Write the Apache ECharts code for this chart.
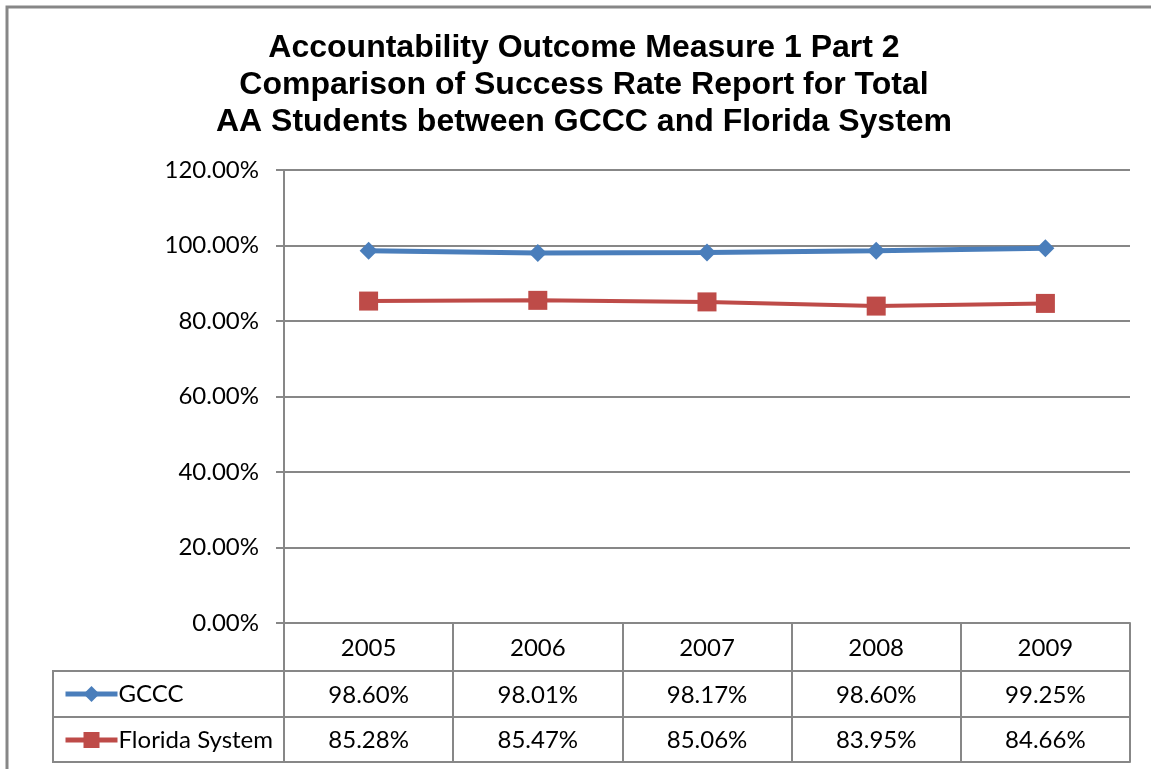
<!DOCTYPE html>
<html>
<head>
<meta charset="utf-8">
<script src="https://cdn.jsdelivr.net/npm/echarts@6/dist/echarts.min.js"></script>
<style>
  html, body { margin: 0; padding: 0; background: #fff; }
  #chart { width: 1151px; height: 769px; }
</style>
</head>
<body>
<div id="chart"></div>
<script>
// 資料
const years = ['2005', '2006', '2007', '2008', '2009'];
const gccc = [98.60, 98.01, 98.17, 98.60, 99.25];
const florida = [85.28, 85.47, 85.06, 83.95, 84.66];
const yTicks = [0, 20, 40, 60, 80, 100, 120];

const titleText = 'Accountability Outcome Measure 1 Part 2\nComparison of Success Rate Report for Total\nAA Students between GCCC and Florida System';

const gray = '#878787';
const labelFont = 'Lato';
const labelSize = 24;
const pct = v => Number(v).toFixed(2) + '%';

const myChart = echarts.init(document.getElementById('chart'));

// 資料表的行 (x 軸偏移)
function tableAxis(offset, tickLen, rowVals, showTicks) {
  return {
    type: 'category',
    position: 'bottom',
    data: years,
    offset: offset,
    boundaryGap: true,
    axisLine: { show: true, lineStyle: { color: gray, width: 2 } },
    axisTick: { show: showTicks, length: tickLen, interval: 0, lineStyle: { color: gray, width: 2 } },
    axisLabel: {
      show: !!rowVals,
      interval: 0,
      margin: tickLen / 2 + 1,
      verticalAlign: 'middle',
      color: '#000',
      fontFamily: labelFont,
      fontSize: labelSize,
      formatter: (v, i) => rowVals ? rowVals(i, v) : ''
    },
    splitLine: { show: false }
  };
}

function legendRow(name, top) {
  return {
    data: [name],
    left: 58, top: top,
    itemWidth: 52, itemHeight: 20,
    lineStyle: { width: 5 },
    textStyle: { fontFamily: labelFont, fontSize: labelSize, color: '#000', padding: [0, 0, 0, -4] }
  };
}

const option = {
  animation: false,
  title: {
    text: titleText,
    left: 579,
    top: 25,
    textAlign: 'center',
    textStyle: {
      fontFamily: 'Liberation Sans',
      fontWeight: 'bold',
      fontSize: 32,
      lineHeight: 37,
      color: '#000'
    }
  },
  legend: [
    legendRow('GCCC', 677),
    legendRow('Florida System', 723)
  ],
  grid: { left: 284, right: 21, top: 170, bottom: 146, containLabel: false },
  xAxis: [
    tableAxis(0, 48, (i, v) => v, true),
    tableAxis(48, 46, i => pct(gccc[i]), true),
    tableAxis(94, 45, i => pct(florida[i]), true),
    tableAxis(139, 0, null, false)
  ],
  yAxis: {
    type: 'value',
    min: yTicks[0],
    max: yTicks[yTicks.length - 1],
    interval: 20,
    axisLine: { show: true, lineStyle: { color: gray, width: 2 } },
    axisTick: { show: true, length: 8, lineStyle: { color: gray, width: 2 } },
    axisLabel: {
      margin: 25,
      color: '#000',
      fontFamily: labelFont,
      fontSize: labelSize,
      formatter: v => pct(v)
    },
    splitLine: { show: true, lineStyle: { color: gray, width: 2 } }
  },
  series: [
    {
      name: 'GCCC',
      type: 'line',
      xAxisIndex: 0,
      data: gccc,
      symbol: 'diamond',
      symbolSize: 18,
      lineStyle: { color: '#4A7EBB', width: 5 },
      itemStyle: { color: '#4A7EBB' }
    },
    {
      name: 'Florida System',
      type: 'line',
      xAxisIndex: 0,
      data: florida,
      symbol: 'rect',
      symbolSize: 19,
      lineStyle: { color: '#BE4B48', width: 4 },
      itemStyle: { color: '#BE4B48' }
    }
  ],
  graphic: [
    // 外框
    {
      type: 'rect', silent: true,
      shape: { x: 7, y: 7, width: 1300, height: 900 },
      style: { fill: 'none', stroke: gray, lineWidth: 3 }
    },
    // 圖例欄
    {
      type: 'rect', silent: true,
      shape: { x: 53, y: 671, width: 231, height: 91 },
      style: { fill: 'none', stroke: gray, lineWidth: 2 }
    },
    {
      type: 'line', silent: true,
      shape: { x1: 53, y1: 717, x2: 284, y2: 717 },
      style: { stroke: gray, lineWidth: 2 }
    }
  ]
};

myChart.setOption(option);
</script>
</body>
</html>
